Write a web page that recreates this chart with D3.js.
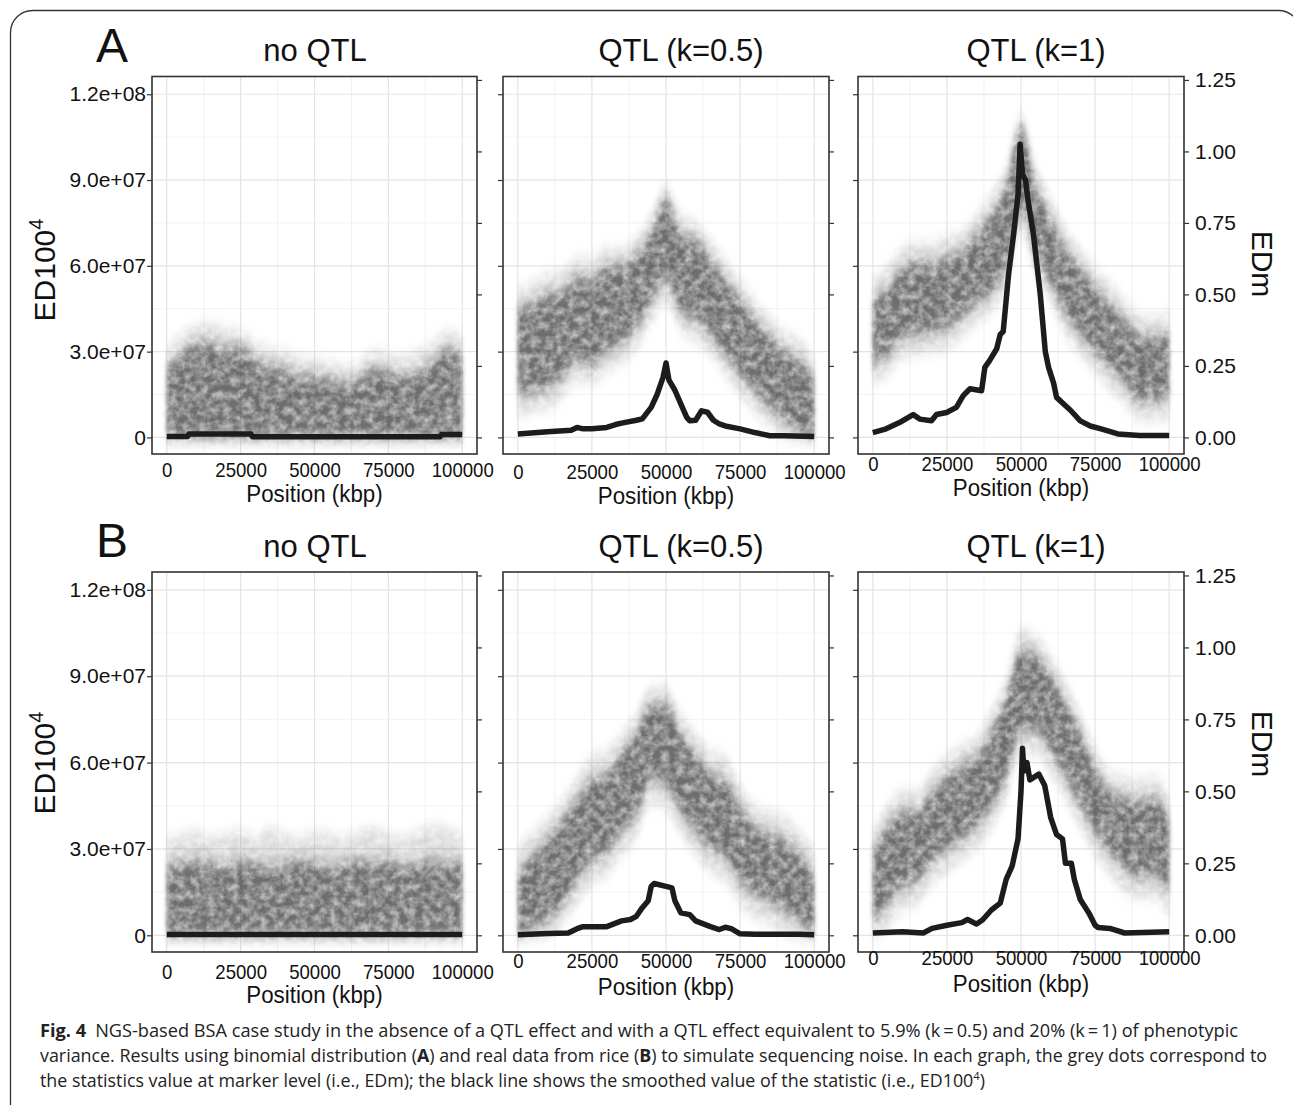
<!DOCTYPE html>
<html lang="en">
<head>
<meta charset="utf-8">
<title>Fig. 4 NGS-based BSA</title>
<script src="https://cdn.jsdelivr.net/npm/d3@7"></script>
<style>
  body { margin: 0; background: #fff; }
  svg { display: block; font-family: "Liberation Sans", Arial, sans-serif; }
</style>
</head>
<body>
<script>
// ---- data ----
// x stations (kbp) at which the grey EDm cloud envelope was read
var cloudPos = [0,5000,10000,15000,20000,25000,30000,35000,40000,45000,50000,55000,60000,65000,70000,75000,80000,85000,90000,95000,100000];

// EDm cloud: sparse top, dense upper, dense lower, sparse bottom
var a1Top = [0.31,0.36,0.39,0.40,0.38,0.37,0.33,0.31,0.30,0.28,0.27,0.26,0.25,0.26,0.30,0.29,0.28,0.30,0.33,0.37,0.35];
var a1Hi  = [0.25,0.29,0.33,0.33,0.31,0.315,0.27,0.25,0.24,0.215,0.215,0.205,0.19,0.205,0.24,0.23,0.215,0.23,0.26,0.31,0.285];
var a1Lo  = [0,0,0,0,0,0,0,0,0,0,0,0,0,0,0,0,0,0,0,0,0];
var a1Bot = [-0.012,-0.012,-0.012,-0.012,-0.012,-0.012,-0.012,-0.012,-0.012,-0.012,-0.012,-0.012,-0.012,-0.012,-0.012,-0.012,-0.012,-0.012,-0.012,-0.012,-0.012];

var a2Top = [0.52,0.54,0.57,0.58,0.63,0.62,0.66,0.66,0.70,0.78,0.88,0.78,0.75,0.69,0.62,0.55,0.48,0.42,0.37,0.34,0.28];
var a2Hi  = [0.455,0.47,0.50,0.51,0.56,0.55,0.60,0.60,0.64,0.71,0.83,0.71,0.69,0.62,0.55,0.48,0.41,0.35,0.30,0.27,0.21];
var a2Lo  = [0.15,0.16,0.175,0.21,0.27,0.26,0.30,0.33,0.385,0.48,0.55,0.44,0.41,0.36,0.29,0.22,0.16,0.105,0.06,0.02,0.0];
var a2Bot = [0.07,0.09,0.10,0.14,0.20,0.19,0.23,0.26,0.31,0.40,0.47,0.37,0.34,0.29,0.22,0.15,0.09,0.04,0.0,-0.01,-0.01];

var a3Top = [0.55,0.60,0.66,0.68,0.68,0.70,0.72,0.78,0.85,0.95,1.13,0.95,0.84,0.73,0.66,0.59,0.54,0.48,0.43,0.42,0.44];
var a3Hi  = [0.48,0.52,0.59,0.61,0.61,0.63,0.65,0.71,0.78,0.875,1.08,0.875,0.77,0.66,0.59,0.52,0.47,0.41,0.36,0.35,0.36];
var a3Lo  = [0.256,0.29,0.35,0.36,0.37,0.385,0.42,0.47,0.51,0.595,0.80,0.64,0.54,0.43,0.36,0.30,0.245,0.19,0.13,0.13,0.14];
var a3Bot = [0.19,0.22,0.28,0.29,0.30,0.31,0.35,0.40,0.44,0.52,0.72,0.57,0.47,0.36,0.29,0.23,0.17,0.12,0.06,0.06,0.07];

var b1Top = [0.33,0.35,0.36,0.34,0.35,0.36,0.34,0.37,0.35,0.34,0.36,0.35,0.34,0.36,0.37,0.35,0.34,0.36,0.38,0.37,0.35];
var b1Hi  = [0.24,0.25,0.26,0.25,0.24,0.26,0.25,0.24,0.25,0.26,0.25,0.24,0.25,0.26,0.25,0.26,0.24,0.25,0.26,0.25,0.26];
var b1Lo  = [0,0,0,0,0,0,0,0,0,0,0,0,0,0,0,0,0,0,0,0,0];
var b1Bot = [-0.012,-0.012,-0.012,-0.012,-0.012,-0.012,-0.012,-0.012,-0.012,-0.012,-0.012,-0.012,-0.012,-0.012,-0.012,-0.012,-0.012,-0.012,-0.012,-0.012,-0.012];

var b2Top = [0.30,0.36,0.41,0.47,0.55,0.62,0.64,0.70,0.77,0.86,0.86,0.77,0.70,0.64,0.62,0.52,0.45,0.43,0.41,0.36,0.30];
var b2Hi  = [0.21,0.28,0.33,0.40,0.47,0.54,0.56,0.63,0.70,0.80,0.80,0.70,0.63,0.56,0.54,0.445,0.375,0.35,0.33,0.28,0.21];
var b2Lo  = [0.0,0.026,0.05,0.107,0.19,0.26,0.29,0.36,0.42,0.54,0.52,0.43,0.36,0.30,0.27,0.19,0.14,0.12,0.084,0.05,0.0];
var b2Bot = [-0.012,-0.01,0.0,0.04,0.11,0.18,0.21,0.28,0.34,0.46,0.44,0.35,0.28,0.22,0.19,0.11,0.06,0.04,0.01,-0.01,-0.012];

var b3Top = [0.36,0.45,0.50,0.50,0.57,0.62,0.66,0.69,0.78,0.89,1.06,1.04,0.97,0.88,0.77,0.65,0.57,0.55,0.54,0.55,0.48];
var b3Hi  = [0.29,0.38,0.43,0.43,0.50,0.55,0.59,0.62,0.71,0.82,0.99,0.97,0.90,0.81,0.70,0.58,0.50,0.475,0.465,0.475,0.41];
var b3Lo  = [0.05,0.11,0.17,0.19,0.26,0.30,0.335,0.38,0.45,0.55,0.71,0.71,0.64,0.55,0.45,0.36,0.29,0.23,0.206,0.206,0.15];
var b3Bot = [-0.01,0.03,0.09,0.11,0.18,0.22,0.26,0.30,0.37,0.47,0.63,0.63,0.56,0.47,0.37,0.28,0.21,0.15,0.13,0.13,0.07];

// smoothed ED100^4 (black line): positions (kbp) and values
var a1LinePos = [0,7000,7500,28500,29000,92500,93000,100000];
var a1LineVal = [0.3e6,0.3e6,1.2e6,1.2e6,0.2e6,0.2e6,1.0e6,1.0e6];

var a2LinePos = [0,10000,18000,20000,22000,25000,30000,33000,35000,40000,42000,45000,47000,49000,50000,51000,53000,55000,57000,58000,60000,62000,64000,66000,68000,70000,75000,80000,85000,90000,100000];
var a2LineVal = [1.2e6,2.0e6,2.5e6,3.5e6,3.0e6,3.0e6,3.5e6,4.5e6,5.0e6,6.0e6,6.5e6,10.5e6,15e6,21e6,26e6,20e6,16.5e6,11.7e6,7.0e6,5.8e6,6.0e6,9.3e6,8.8e6,6.0e6,4.7e6,4.0e6,3.0e6,1.7e6,0.6e6,0.6e6,0.3e6];

var a3LinePos = [0,4500,9000,13600,15800,19800,21500,24900,28200,30500,32800,36700,37800,39500,41800,43000,44000,45800,47500,49000,49700,50500,51500,52500,54200,56500,58200,59300,61000,62000,64400,66700,70000,73400,77000,82700,90000,100000];
var a3LineVal = [1.7e6,3.0e6,5.2e6,8.0e6,6.4e6,5.8e6,8.0e6,8.7e6,10.5e6,14.6e6,17e6,16.3e6,24.5e6,27e6,31e6,36e6,37e6,57e6,71e6,85e6,102.5e6,92e6,90e6,82e6,71e6,50e6,30e6,24.5e6,19e6,14e6,11.7e6,9.5e6,5.8e6,4.0e6,3.0e6,1.2e6,0.7e6,0.7e6];

var b1LinePos = [0,25000,50000,75000,100000];
var b1LineVal = [0.3e6,0.3e6,0.3e6,0.3e6,0.3e6];

var b2LinePos = [0,10000,17000,20000,22000,30000,35000,38000,40000,42000,44000,45000,46000,50000,52000,53000,55000,58000,60000,65000,68000,70000,72000,75000,80000,95000,100000];
var b2LineVal = [0.2e6,0.6e6,0.8e6,2.3e6,3.0e6,3.0e6,5.0e6,5.5e6,6.6e6,9.6e6,12e6,17e6,18e6,17e6,16.5e6,12e6,7.8e6,7.2e6,5.0e6,3.0e6,2.0e6,2.8e6,2.3e6,0.5e6,0.4e6,0.4e6,0.2e6];

var b3LinePos = [0,10000,17000,20000,25000,30000,32000,35000,37000,40000,43000,45000,47000,49000,50000,50500,51000,52000,53000,56000,58000,60000,62000,64000,65000,67000,68000,70000,73000,75000,76000,80000,85000,100000];
var b3LineVal = [0.8e6,1.2e6,0.8e6,2.4e6,3.5e6,4.4e6,5.5e6,3.9e6,5.3e6,8.8e6,11.2e6,19.4e6,24e6,33.5e6,50e6,65e6,57e6,60e6,54e6,56e6,52e6,41e6,35e6,33.5e6,25e6,25e6,19.4e6,12.4e6,7.6e6,3.5e6,2.7e6,2.4e6,0.8e6,1.2e6];

// axes
var xTicks = [0,25000,50000,75000,100000];
var xMinor = [12500,37500,62500,87500];
var primaryTicks = [0,3e7,6e7,9e7,1.2e8];
var primaryTickLabels = ["0","3.0e+07","6.0e+07","9.0e+07","1.2e+08"];
var primaryMinor = [1.5e7,4.5e7,7.5e7,1.05e8];
var secTicks = [0,0.25,0.5,0.75,1.0,1.25];
var panelTitles = ["no QTL","QTL (k=0.5)","QTL (k=1)"];
var rowLetters = ["A","B"];

// ---- layout ----
var W = 1293, H = 1105;
var rows = [
  {top: 76.5, bottom: 454, letterBase: 62, titleBase: 61, yTitleY: 270, secTitleY: 264,
   xTickBase: [477,479,471], xTitleBase: [502,504,496]},
  {top: 572, bottom: 952, letterBase: 557, titleBase: 557, yTitleY: 763, secTitleY: 744,
   xTickBase: [979,968,965], xTitleBase: [1003,995,992]}
];
var cols = [
  {left: 152, right: 477, titleX: 315},
  {left: 503, right: 829, titleX: 681},
  {left: 858, right: 1184, titleX: 1036}
];

var panels = [
  {r:0,c:0, top:a1Top, hi:a1Hi, lo:a1Lo, bot:a1Bot, lx:a1LinePos, ly:a1LineVal},
  {r:0,c:1, top:a2Top, hi:a2Hi, lo:a2Lo, bot:a2Bot, lx:a2LinePos, ly:a2LineVal},
  {r:0,c:2, top:a3Top, hi:a3Hi, lo:a3Lo, bot:a3Bot, lx:a3LinePos, ly:a3LineVal},
  {r:1,c:0, top:b1Top, hi:b1Hi, lo:b1Lo, bot:b1Bot, lx:b1LinePos, ly:b1LineVal},
  {r:1,c:1, top:b2Top, hi:b2Hi, lo:b2Lo, bot:b2Bot, lx:b2LinePos, ly:b2LineVal},
  {r:1,c:2, top:b3Top, hi:b3Hi, lo:b3Lo, bot:b3Bot, lx:b3LinePos, ly:b3LineVal}
];

var svg = d3.select("body").append("svg").attr("width", W).attr("height", H);
var defs = svg.append("defs");

// soft, mottled texture so the bands read like a dense cloud of dots
var grain = defs.append("filter").attr("id", "grain")
  .attr("x", "-5%").attr("y", "-15%").attr("width", "110%").attr("height", "130%")
  .attr("color-interpolation-filters", "sRGB");
grain.append("feGaussianBlur").attr("in", "SourceGraphic").attr("stdDeviation", "2 7").attr("result", "soft");
grain.append("feTurbulence").attr("type", "fractalNoise").attr("baseFrequency", 0.13)
  .attr("numOctaves", 3).attr("seed", 11).attr("result", "noise");
grain.append("feColorMatrix").attr("in", "noise").attr("type", "matrix")
  .attr("values", "0 0 0 0 0  0 0 0 0 0  0 0 0 0 0  1.1 0 0 0 0.25").attr("result", "mask");
grain.append("feComposite").attr("in", "soft").attr("in2", "mask").attr("operator", "in");

// outer frame of the figure
svg.append("rect").attr("x", 10.5).attr("y", 10.5).attr("width", 1290).attr("height", 1130)
  .attr("rx", 22).attr("fill", "none").attr("stroke", "#333").attr("stroke-width", 1.3);

panels.forEach(function(p, k) {
  var row = rows[p.r], col = cols[p.c];
  var x = d3.scaleLinear().domain([-5000, 105000]).range([col.left, col.right]);
  var y = d3.scaleLinear().domain([-5.8e6, 1.262e8]).range([row.bottom, row.top]);
  var ySec = d3.scaleLinear().domain([-0.058, 1.262]).range([row.bottom, row.top]);

  var g = svg.append("g");
  defs.append("clipPath").attr("id", "clip" + k).append("rect")
    .attr("x", col.left).attr("y", row.top)
    .attr("width", col.right - col.left).attr("height", row.bottom - row.top);

  // grid
  var grid = g.append("g");
  grid.selectAll("line.vmin").data(xMinor).join("line")
    .attr("x1", d => x(d)).attr("x2", d => x(d)).attr("y1", row.top).attr("y2", row.bottom)
    .attr("stroke", "#f0f0f0").attr("stroke-width", 0.9);
  grid.selectAll("line.hmin").data(primaryMinor).join("line")
    .attr("y1", d => y(d)).attr("y2", d => y(d)).attr("x1", col.left).attr("x2", col.right)
    .attr("stroke", "#f0f0f0").attr("stroke-width", 0.9);
  grid.selectAll("line.vmaj").data(xTicks).join("line")
    .attr("x1", d => x(d)).attr("x2", d => x(d)).attr("y1", row.top).attr("y2", row.bottom)
    .attr("stroke", "#e4e4e4").attr("stroke-width", 1.2);
  grid.selectAll("line.hmaj").data(primaryTicks).join("line")
    .attr("y1", d => y(d)).attr("y2", d => y(d)).attr("x1", col.left).attr("x2", col.right)
    .attr("stroke", "#e4e4e4").attr("stroke-width", 1.2);

  // grey EDm cloud
  var cloud = g.append("g").attr("clip-path", "url(#clip" + k + ")")
    .append("g").attr("filter", "url(#grain)");
  var outer = d3.area().curve(d3.curveMonotoneX)
    .x((d, i) => x(d)).y0((d, i) => ySec(p.bot[i])).y1((d, i) => ySec(p.top[i]));
  var dense = d3.area().curve(d3.curveMonotoneX)
    .x((d, i) => x(d)).y0((d, i) => ySec(p.lo[i])).y1((d, i) => ySec(p.hi[i]));
  cloud.append("path").datum(cloudPos).attr("d", outer)
    .attr("fill", "#666").attr("fill-opacity", 0.25);
  cloud.append("path").datum(cloudPos).attr("d", dense)
    .attr("fill", "#555").attr("fill-opacity", 0.82);

  // smoothed ED100^4
  var line = d3.line().x((d, i) => x(p.lx[i])).y(d => y(d));
  g.append("path").datum(p.ly).attr("d", line)
    .attr("fill", "none").attr("stroke", "#1c1c1c").attr("stroke-width", 5.5)
    .attr("stroke-linejoin", "round");

  // panel border
  g.append("rect").attr("x", col.left).attr("y", row.top)
    .attr("width", col.right - col.left).attr("height", row.bottom - row.top)
    .attr("fill", "none").attr("stroke", "#333").attr("stroke-width", 1.6);

  // left (ED100^4) axis
  var la = g.append("g").attr("transform", "translate(" + col.left + ",0)")
    .call(d3.axisLeft(y).tickValues(primaryTicks).tickSize(5).tickPadding(1)
      .tickFormat(p.c === 0 ? (d, i) => primaryTickLabels[i] : () => ""));
  // right (EDm) axis
  var ra = g.append("g").attr("transform", "translate(" + col.right + ",0)")
    .call(d3.axisRight(ySec).tickValues(secTicks).tickSize(5).tickPadding(6)
      .tickFormat(p.c === 2 ? d3.format(".2f") : () => ""));
  [la, ra].forEach(function(a) {
    a.select(".domain").remove();
    a.selectAll("line").attr("stroke", "#333").attr("stroke-width", 1.2);
    a.selectAll("text").attr("fill", "#111").style("font-size", "21px")
      .style("font-family", "'Liberation Sans', Arial, sans-serif");
  });

  // bottom axis labels
  var ba = g.append("g").attr("transform", "translate(0," + row.bottom + ")")
    .call(d3.axisBottom(x).tickValues(xTicks).tickSize(0).tickFormat(d3.format("d")));
  ba.select(".domain").remove();
  ba.selectAll("text").attr("y", row.xTickBase[p.c] - row.bottom).attr("dy", null)
    .attr("transform", "scale(0.93,1)").attr("fill", "#111").style("font-size", "20px")
    .style("font-family", "'Liberation Sans', Arial, sans-serif");

  var cx = (col.left + col.right) / 2;
  g.append("text").attr("text-anchor", "middle")
    .attr("transform", "translate(" + cx + "," + row.xTitleBase[p.c] + ") scale(0.93,1)")
    .attr("font-size", 24).attr("fill", "#111").text("Position (kbp)");

  g.append("text").attr("x", col.titleX).attr("y", row.titleBase).attr("text-anchor", "middle")
    .attr("font-size", 31).attr("fill", "#111").text(panelTitles[p.c]);
});

rows.forEach(function(row, r) {
  svg.append("text").attr("x", 96).attr("y", row.letterBase).attr("font-size", 48)
    .attr("fill", "#111").text(rowLetters[r]);
  var yt = svg.append("text").attr("text-anchor", "middle").attr("font-size", 30).attr("fill", "#111")
    .attr("transform", "translate(55," + row.yTitleY + ") rotate(-90)");
  yt.append("tspan").text("ED100");
  yt.append("tspan").attr("font-size", 20).attr("dy", -12).text("4");
  svg.append("text").attr("text-anchor", "middle").attr("font-size", 30).attr("fill", "#111")
    .attr("transform", "translate(1252," + row.secTitleY + ") rotate(90)").text("EDm");
});

// caption
var cap = svg.append("g").attr("font-family", "'Open Sans', 'Noto Sans', sans-serif")
  .attr("font-size", 17.5).attr("fill", "#222");
var c1 = cap.append("text").attr("x", 40).attr("y", 1037).attr("textLength", 1198).attr("lengthAdjust", "spacingAndGlyphs");
c1.append("tspan").attr("font-weight", "bold").text("Fig. 4");
c1.append("tspan").text("\u2002NGS-based BSA case study in the absence of a QTL effect and with a QTL effect equivalent to 5.9% (k\u2009=\u20090.5) and 20% (k\u2009=\u20091) of phenotypic");
var c2 = cap.append("text").attr("x", 40).attr("y", 1062).attr("textLength", 1227).attr("lengthAdjust", "spacingAndGlyphs");
c2.append("tspan").text("variance. Results using binomial distribution (");
c2.append("tspan").attr("font-weight", "bold").text("A");
c2.append("tspan").text(") and real data from rice (");
c2.append("tspan").attr("font-weight", "bold").text("B");
c2.append("tspan").text(") to simulate sequencing noise. In each graph, the grey dots correspond to");
var c3 = cap.append("text").attr("x", 40).attr("y", 1087).attr("textLength", 945).attr("lengthAdjust", "spacingAndGlyphs");
c3.append("tspan").text("the statistics value at marker level (i.e., EDm); the black line shows the smoothed value of the statistic (i.e., ED100");
c3.append("tspan").attr("font-size", 11).attr("dy", -7).text("4");
c3.append("tspan").attr("dy", 7).text(")");
</script>
</body>
</html>
